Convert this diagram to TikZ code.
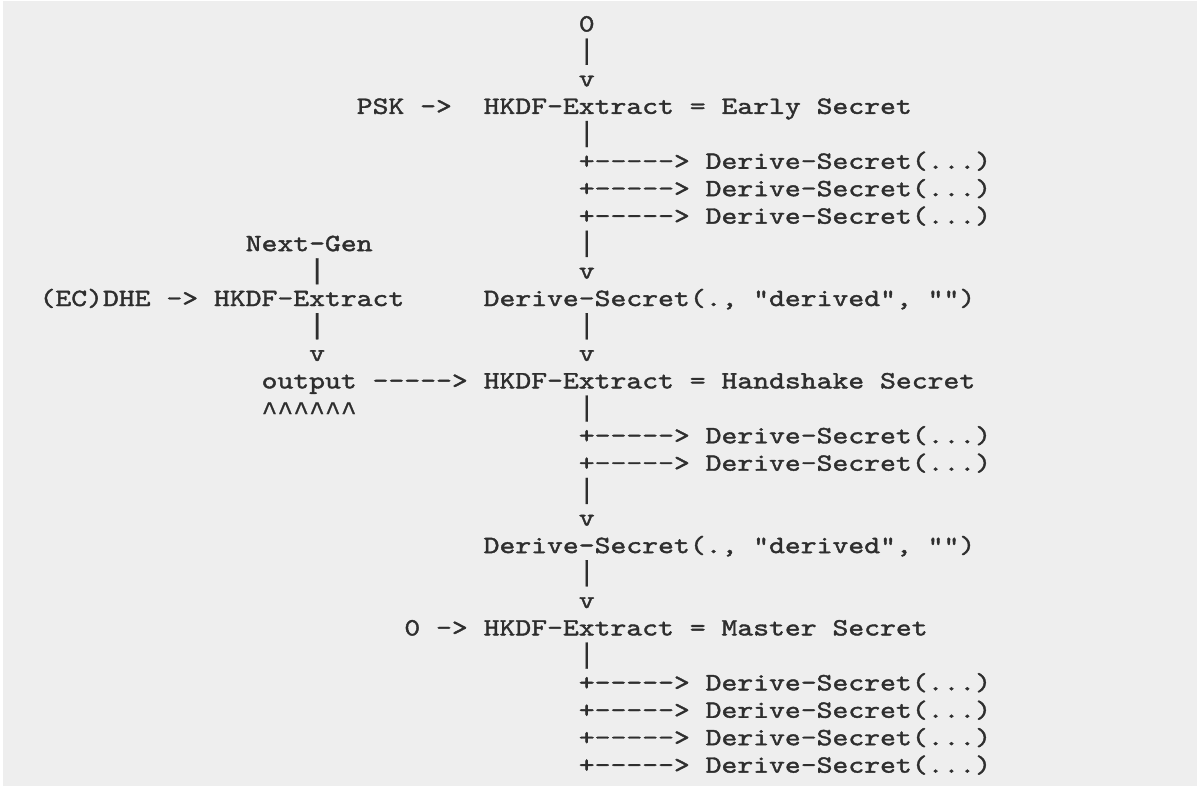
\documentclass[tikz,border=0pt]{standalone}
\usepackage{fontspec}
\newfontfamily\asciifont[FakeStretch=1.218,FakeBold=1.6]{lmmono10-regular.otf}
\newfontfamily\barfont[FakeBold=0.8]{Liberation Mono}
\definecolor{bg}{HTML}{EEEEEE}
\definecolor{ink}{HTML}{2E2E2E}
\tikzset{
  txt/.style={anchor=base west, inner sep=0pt, outer sep=0pt, text=ink,
    font=\asciifont\fontsize{12.4pt}{12.4pt}\selectfont},
  bartxt/.style={anchor=base, inner sep=0pt, outer sep=0pt, text=ink,
    font=\barfont\fontsize{14pt}{14pt}\selectfont},
  carettxt/.style={anchor=base west, inner sep=0pt, outer sep=0pt, text=ink,
    font=\barfont\fontsize{13.2pt}{13.2pt}\selectfont},
}
% #1 name, #2 column, #3 line, #4 text
\newcommand\asc[4]{\node[txt] (#1) at ({39.57+15.86*(#2)},{31.5+27.45*((#3)-1)}) {#4};}
% vertical bar character, centred in its cell
\newcommand\ascbar[3]{\node[bartxt] (#1) at ({47.5+15.86*(#2)},{31.5+27.45*((#3)-1)}) {|};}
\begin{document}
\begin{tikzpicture}[x=0.5pt,y=-0.5pt]
\useasboundingbox (0,0) rectangle (1197,789);
\fill[white] (0,0) rectangle (1197,789);
\fill[bg] (3,1) rectangle (1197,786);
% early secret
\asc{zeroA}{34}{1}{0}
\ascbar{barA}{34}{2}
\asc{vA}{34}{3}{v}
\asc{psk}{20}{4}{PSK ->}
\asc{early}{28}{4}{HKDF-Extract = Early Secret}
\ascbar{barB}{34}{5}
\asc{eA}{34}{6}{+-----> Derive-Secret(...)}
\asc{eB}{34}{7}{+-----> Derive-Secret(...)}
\asc{eC}{34}{8}{+-----> Derive-Secret(...)}
% next-gen branch
\asc{nextgen}{13}{9}{Next-Gen}
\ascbar{barC}{34}{9}
\ascbar{barD}{17}{10}
\asc{vB}{34}{10}{v}
\asc{ecdhe}{0}{11}{(EC)DHE -> HKDF-Extract}
\asc{derivedA}{28}{11}{Derive-Secret(., "derived", "")}
\ascbar{barE}{17}{12}
\ascbar{barF}{34}{12}
\asc{vC}{17}{13}{v}
\asc{vD}{34}{13}{v}
% handshake secret
\asc{output}{14}{14}{output}
\asc{outarrow}{21}{14}{----->}
\asc{handshake}{28}{14}{HKDF-Extract = Handshake Secret}
\node[carettxt] (carets) at ({39.57+15.86*14},{31.5+27.45*14+4}) {\char"5E\char"5E\char"5E\char"5E\char"5E\char"5E};
\ascbar{barG}{34}{15}
\asc{hA}{34}{16}{+-----> Derive-Secret(...)}
\asc{hB}{34}{17}{+-----> Derive-Secret(...)}
\ascbar{barH}{34}{18}
\asc{vE}{34}{19}{v}
\asc{derivedB}{28}{20}{Derive-Secret(., "derived", "")}
\ascbar{barI}{34}{21}
\asc{vF}{34}{22}{v}
% master secret
\asc{zeroB}{23}{23}{0 ->}
\asc{master}{28}{23}{HKDF-Extract = Master Secret}
\ascbar{barJ}{34}{24}
\asc{mA}{34}{25}{+-----> Derive-Secret(...)}
\asc{mB}{34}{26}{+-----> Derive-Secret(...)}
\asc{mC}{34}{27}{+-----> Derive-Secret(...)}
\asc{mD}{34}{28}{+-----> Derive-Secret(...)}
\end{tikzpicture}
\end{document}
